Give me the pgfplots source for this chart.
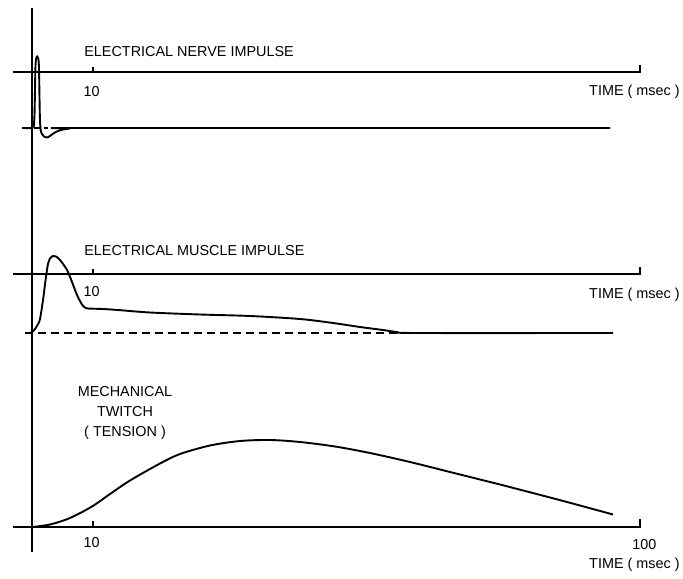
\documentclass[border=0pt]{standalone}
\usepackage{fontspec}
\setmainfont{Liberation Sans}
\usepackage{pgfplots}
\pgfplotsset{compat=1.18}
\usepackage{pgfplotstable}

% Nerve action potential (time in ms, deflection from resting level)
\pgfplotstableread{
t v
-1.64 0
0.00 0
0.30 2
0.42 15
0.50 40
0.56 60
0.66 69
0.85 71.5
1.05 69
1.15 60
1.22 35
1.30 10
1.42 -2
1.64 -6
1.97 -8.5
2.47 -9.5
2.96 -8
3.62 -5
4.28 -3
5.10 -1.5
6.25 -0.5
7.89 0
95.07 0
}\nerve

% Muscle action potential
\pgfplotstableread{
t v
-0.49 0
0.00 0.8
0.49 4
1.00 9
1.32 14
1.81 33
2.30 56
2.63 69
2.96 74.5
3.45 77
3.95 76.5
4.61 73
5.76 63
6.58 51
7.40 38
8.22 28.5
8.72 25.5
9.21 24.5
11.68 24
14.14 23
19.41 20.5
27.63 18.5
35.86 17
44.08 14
49.51 10
53.95 6
57.73 3
60.03 1
63.32 0
95.56 0
}\muscle

% Twitch tension
\pgfplotstableread{
t v
0.00 0
2.96 2.5
6.25 9
9.87 20.5
12.83 33
16.12 46.5
21.05 63.5
24.34 73
29.28 81.5
34.21 86
39.14 87
44.08 85
49.84 80.5
55.59 74
62.17 65
70.39 52.5
76.97 42.5
85.20 29.5
90.13 21.5
95.56 12.5
}\twitch

\begin{document}
\begin{tikzpicture}[font=\fontsize{7.2}{8.6}\selectfont, every node/.style={inner sep=0pt}]
\begin{axis}[
  hide axis, clip=false,
  x=3.04pt, y=0.5pt,
  xmin=-5.263, xmax=107.07, ymin=0, ymax=578,
  axisline/.style={black, line width=0.8pt, no markers},
  trace/.style={black, line width=0.95pt, no markers},
]
% common vertical axis
\addplot[axisline] coordinates {(0,26) (0,570)};

% ---- nerve panel (axis at 506, rest level at 450)
\addplot[axisline] coordinates {(-3.125,506) (100,506) (100,513)};
\addplot[axisline] coordinates {(10,506) (10,511)};
\addplot[black, line width=0.6pt, dash pattern=on 3pt off 2pt]
  coordinates {(0.3,450) (2.6,450)};
\addplot[trace, smooth, tension=0.4] table[x=t, y expr=\thisrow{v}+450] {\nerve};
\node[anchor=west] at (axis cs:8.55,526.5) {ELECTRICAL NERVE IMPULSE};
\node at (axis cs:9.8,486.5) {10};
\node[anchor=east] at (axis cs:106.58,486) {TIME ( msec )};

% ---- muscle panel (axis at 304, rest level at 245)
\addplot[axisline] coordinates {(-3.125,304) (100,304) (100,311)};
\addplot[axisline] coordinates {(10,304) (10,309)};
\addplot[black, line width=0.6pt, dash pattern=on 4pt off 2.5pt]
  coordinates {(-1.15,245) (60.5,245)};
\addplot[trace, smooth, tension=0.5] table[x=t, y expr=\thisrow{v}+245] {\muscle};
\node[anchor=west] at (axis cs:8.55,327) {ELECTRICAL MUSCLE IMPULSE};
\node at (axis cs:9.8,286) {10};
\node[anchor=east] at (axis cs:106.58,283) {TIME ( msec )};

% ---- mechanical panel (axis at 51)
\addplot[axisline] coordinates {(-3.125,51) (100,51) (100,59)};
\addplot[axisline] coordinates {(10,51) (10,57)};
\addplot[trace, smooth, tension=0.5] table[x=t, y expr=\thisrow{v}+51] {\twitch};
\node[align=center] at (axis cs:15.3,165) {MECHANICAL\\[1.2pt] TWITCH\\[1.2pt] ( TENSION )};
\node at (axis cs:9.8,35) {10};
\node at (axis cs:100.7,33) {100};
\node[anchor=east] at (axis cs:106.58,13) {TIME ( msec )};
\end{axis}
\pgfresetboundingbox
\path (current axis.south west) rectangle (current axis.north east);
\end{tikzpicture}
\end{document}
